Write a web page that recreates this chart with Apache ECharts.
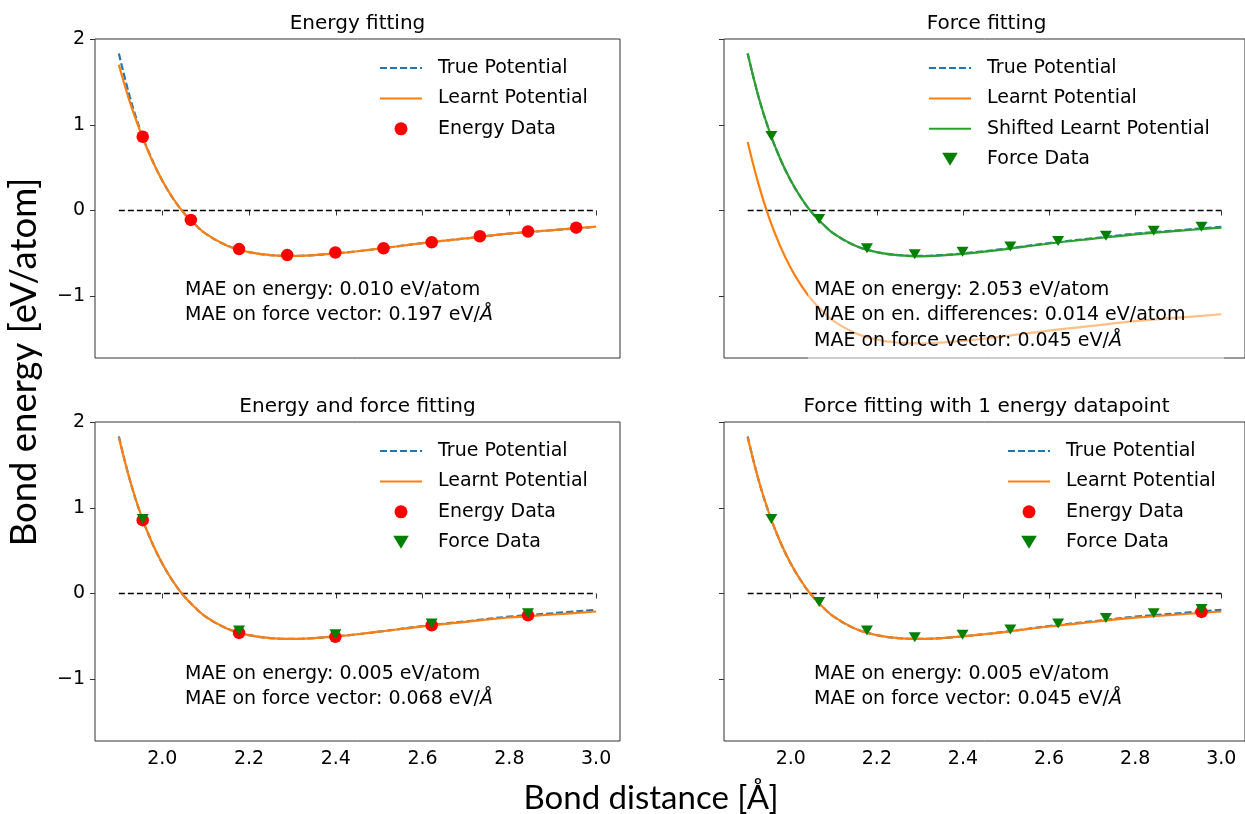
<!DOCTYPE html>
<html>
<head>
<meta charset="utf-8">
<script src="https://cdn.jsdelivr.net/npm/echarts@6/dist/echarts.min.js"></script>
<style>
html, body { margin: 0; padding: 0; background: #fff; }
#chart { width: 1245px; height: 814px; }
</style>
</head>
<body>
<div id="chart"></div>
<script>
// curve sample positions (bond distance) and energies
const curveX = [1.90, 1.925, 1.95, 1.975, 2.00, 2.025, 2.05, 2.075, 2.10, 2.15, 2.20, 2.25, 2.30, 2.35, 2.40, 2.45, 2.50, 2.60, 2.70, 2.80, 2.90, 3.00]
const truePotential = [1.83, 1.33, 0.93, 0.61, 0.35, 0.14, -0.03, -0.16, -0.27, -0.41, -0.485, -0.52, -0.53, -0.52, -0.50, -0.475, -0.445, -0.38, -0.325, -0.27, -0.23, -0.19]
const learntEnergyFit = [1.70, 1.27, 0.915, 0.605, 0.35, 0.14, -0.03, -0.16, -0.27, -0.41, -0.485, -0.52, -0.53, -0.52, -0.50, -0.475, -0.445, -0.38, -0.325, -0.27, -0.228, -0.187]
const learntForceFit = [0.80, 0.31, -0.09, -0.41, -0.67, -0.88, -1.05, -1.18, -1.29, -1.43, -1.505, -1.54, -1.55, -1.54, -1.52, -1.495, -1.465, -1.40, -1.345, -1.29, -1.25, -1.21]
const shiftedForceFit = [1.83, 1.33, 0.93, 0.61, 0.35, 0.14, -0.03, -0.16, -0.27, -0.41, -0.485, -0.52, -0.535, -0.525, -0.505, -0.48, -0.45, -0.385, -0.33, -0.278, -0.237, -0.20]
const learntBothFit = [1.82, 1.33, 0.93, 0.61, 0.35, 0.14, -0.03, -0.16, -0.27, -0.41, -0.485, -0.52, -0.53, -0.52, -0.50, -0.475, -0.445, -0.383, -0.33, -0.28, -0.245, -0.21]
const learntOneEnergy = [1.82, 1.33, 0.93, 0.61, 0.35, 0.14, -0.03, -0.16, -0.27, -0.41, -0.485, -0.52, -0.53, -0.52, -0.50, -0.475, -0.447, -0.385, -0.332, -0.282, -0.245, -0.21]

// training points
const sampleX = [1.955, 2.066, 2.177, 2.288, 2.399, 2.51, 2.621, 2.732, 2.843, 2.954]
const energyFitData = [0.86, -0.11, -0.45, -0.52, -0.49, -0.44, -0.37, -0.30, -0.245, -0.20]
const forceFitData = [0.87, -0.10, -0.44, -0.51, -0.48, -0.42, -0.355, -0.295, -0.235, -0.19]
const bothX = [1.955, 2.177, 2.399, 2.621, 2.843]
const bothEnergyData = [0.855, -0.46, -0.505, -0.37, -0.255]
const bothForceData = [0.87, -0.43, -0.475, -0.35, -0.23]
const oneEnergyX = [2.954]
const oneEnergyData = [-0.215]
const oneForceData = [0.87, -0.10, -0.43, -0.51, -0.48, -0.42, -0.35, -0.285, -0.23, -0.18]

const zeroX = [1.9, 3.0]
const zeroY = [0, 0]

const xTicks = [2.0, 2.2, 2.4, 2.6, 2.8, 3.0]
const yTicks = [-1, 0, 1, 2]

const titles = ['Energy fitting', 'Force fitting', 'Energy and force fitting', 'Force fitting with 1 energy datapoint']
const maeLines = [
  ['MAE on energy: 0.010 eV/atom', 'MAE on force vector: 0.197 eV/'],
  ['MAE on energy: 2.053 eV/atom', 'MAE on en. differences: 0.014 eV/atom', 'MAE on force vector: 0.045 eV/'],
  ['MAE on energy: 0.005 eV/atom', 'MAE on force vector: 0.068 eV/'],
  ['MAE on energy: 0.005 eV/atom', 'MAE on force vector: 0.045 eV/'],
]

const FONT = '"DejaVu Sans", sans-serif'
const BIG_FONT = 'Lato, "Open Sans", sans-serif'
const BLUE = '#1f77b4', ORANGE = '#ff7f0e', GREEN = '#2ca02c', RED = '#ff0000', DKGREEN = '#008000'
const TRI_DOWN = 'path://M0,0 L12,0 L6,10 Z'

const panels = [
  { left: 95, top: 39 },
  { left: 724, top: 39 },
  { left: 95, top: 422 },
  { left: 724, top: 422 },
]
const PW = 525, PH = 319

const chart = echarts.init(document.getElementById('chart'))

function pairs(xs, ys) {
  return xs.map((x, i) => [x, ys[i]])
}

function curve(gi, name, ys, color, dashed, z) {
  return {
    name, type: 'line', xAxisIndex: gi, yAxisIndex: gi,
    data: pairs(curveX, ys), showSymbol: false, symbol: 'none',
    smooth: 0.4, z,
    lineStyle: { color, width: 2.2, type: dashed ? [7, 3] : 'solid' },
    // symbol is hidden, so keep the legend icon a plain line
    itemStyle: { color, opacity: 0 },
    silent: true,
  }
}

function zeroLine(gi) {
  return {
    type: 'line', xAxisIndex: gi, yAxisIndex: gi, data: pairs(zeroX, zeroY),
    symbol: 'none', z: 1, silent: true,
    lineStyle: { color: '#000', width: 1.6, type: [6, 3] },
  }
}

function dots(gi, name, xs, ys, kind, z) {
  const tri = kind === 'force'
  return {
    name, type: 'scatter', xAxisIndex: gi, yAxisIndex: gi, data: pairs(xs, ys), z,
    symbol: tri ? TRI_DOWN : 'circle', symbolSize: tri ? [12, 10] : 12.5,
    itemStyle: { color: tri ? DKGREEN : RED, opacity: 1 },
    silent: true,
  }
}

const series = [
  zeroLine(0),
  curve(0, 'True Potential', truePotential, BLUE, true, 2),
  curve(0, 'Learnt Potential', learntEnergyFit, ORANGE, false, 3),
  dots(0, 'Energy Data', sampleX, energyFitData, 'energy', 5),

  zeroLine(1),
  curve(1, 'True Potential', truePotential, BLUE, true, 2),
  curve(1, 'Learnt Potential', learntForceFit, ORANGE, false, 3),
  curve(1, 'Shifted Learnt Potential', shiftedForceFit, GREEN, false, 4),
  dots(1, 'Force Data', sampleX, forceFitData, 'force', 6),

  zeroLine(2),
  curve(2, 'True Potential', truePotential, BLUE, true, 2),
  curve(2, 'Learnt Potential', learntBothFit, ORANGE, false, 3),
  dots(2, 'Energy Data', bothX, bothEnergyData, 'energy', 5),
  dots(2, 'Force Data', bothX, bothForceData, 'force', 6),

  zeroLine(3),
  curve(3, 'True Potential', truePotential, BLUE, true, 2),
  curve(3, 'Learnt Potential', learntOneEnergy, ORANGE, false, 3),
  dots(3, 'Energy Data', oneEnergyX, oneEnergyData, 'energy', 5),
  dots(3, 'Force Data', sampleX, oneForceData, 'force', 6),
]

const axisColor = '#333'

const grid = panels.map(p => ({
  left: p.left, top: p.top, width: PW, height: PH,
  show: true, borderColor: axisColor, borderWidth: 1, backgroundColor: 'transparent',
}))

const xAxis = panels.map((p, i) => ({
  gridIndex: i, type: 'value', min: 1.845, max: 3.055,
  axisLine: { show: false },
  splitLine: { show: false },
  axisTick: { show: true, customValues: xTicks, length: 5, lineStyle: { color: axisColor, width: 1 } },
  axisLabel: {
    show: i >= 2, customValues: xTicks, margin: 9,
    formatter: v => v.toFixed(1), fontSize: 19, color: '#000', fontFamily: FONT,
  },
}))

const yAxis = panels.map((p, i) => ({
  gridIndex: i, type: 'value', min: -1.72, max: 2,
  axisLine: { show: false },
  splitLine: { show: false },
  axisTick: { show: true, customValues: yTicks, length: 5, lineStyle: { color: axisColor, width: 1 } },
  axisLabel: {
    show: i % 2 === 0, customValues: yTicks, margin: 10,
    formatter: v => (v < 0 ? '\u2212' + Math.abs(v) : String(v)),
    fontSize: 19, color: '#000', fontFamily: FONT,
  },
}))

function legend(left, top, names) {
  return {
    left, top, orient: 'vertical', selectedMode: false,
    padding: [5, 0, 5, 0],
    itemWidth: 42, itemHeight: 13, itemGap: 10.4,
    textStyle: { fontSize: 19, fontFamily: FONT, color: '#000', lineHeight: 20, padding: [0, 0, 0, 11] },
    data: names,
  }
}

const legends = [
  legend(379, 53, ['True Potential', 'Learnt Potential', 'Energy Data']),
  legend(928, 53, ['True Potential', 'Learnt Potential', 'Shifted Learnt Potential', 'Force Data']),
  legend(379, 436, ['True Potential', 'Learnt Potential', 'Energy Data', 'Force Data']),
  legend(1007, 436, ['True Potential', 'Learnt Potential', 'Energy Data', 'Force Data']),
]

// titles, annotation boxes and big axis labels
const graphic = []
const titleY = [24, 24, 407, 407]
panels.forEach((p, i) => {
  graphic.push({
    type: 'text', x: p.left + PW / 2, y: titleY[i], z: 50,
    style: { text: titles[i], fontSize: 20, fontFamily: FONT, fill: '#000', align: 'center', verticalAlign: 'middle' },
  })
})

// semi transparent white box behind the text of the force-fitting panel
graphic.push({
  type: 'rect', z: 60, silent: true,
  shape: { x: 808, y: 273, width: 416, height: 90 },
  style: { fill: 'rgba(255,255,255,0.5)' },
})

const maeLeft = [185, 814, 185, 814]
const maeTop = [290, 290, 674, 674]
maeLines.forEach((lines, i) => {
  lines.forEach((line, j) => {
    const last = j === lines.length - 1 && line.endsWith('/')
    graphic.push({
      type: 'text', x: maeLeft[i], y: maeTop[i] + j * 25.3, z: 70,
      style: {
        text: last ? line + '{i|Å}' : line,
        rich: { i: { fontStyle: 'italic', fontSize: 19, fontFamily: FONT, fill: '#000' } },
        fontSize: 19, fontFamily: FONT, fill: '#000', align: 'left', verticalAlign: 'middle',
      },
    })
  })
})

graphic.push({
  type: 'text', x: 24, y: 362, rotation: Math.PI / 2, z: 50,
  style: { text: 'Bond energy [eV/atom]', fontSize: 36.5, fontFamily: BIG_FONT, fill: '#000', align: 'center', verticalAlign: 'middle' },
})
graphic.push({
  type: 'text', x: 651, y: 798, z: 50,
  style: { text: 'Bond distance [Å]', fontSize: 33, fontFamily: BIG_FONT, fill: '#000', align: 'center', verticalAlign: 'middle' },
})

chart.setOption({
  animation: false,
  backgroundColor: '#fff',
  grid, xAxis, yAxis,
  legend: legends,
  series,
  graphic,
})
</script>
</body>
</html>
